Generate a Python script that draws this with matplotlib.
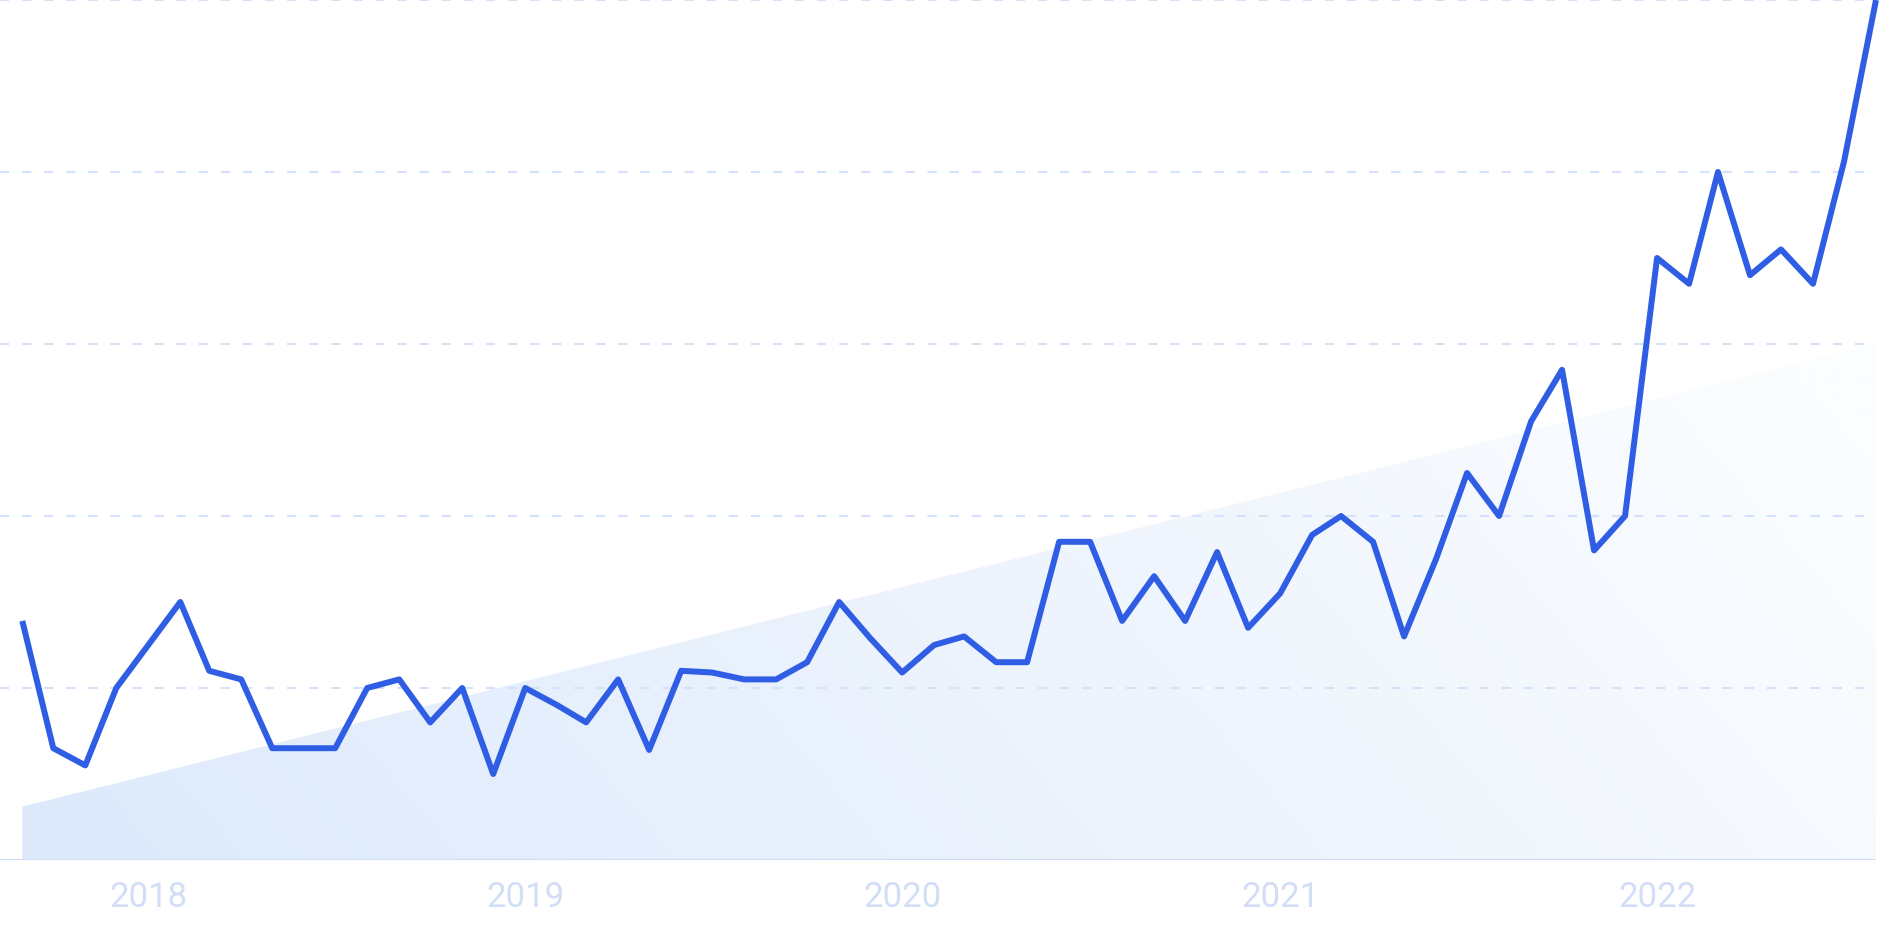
import numpy as np
import pandas as pd
import matplotlib
matplotlib.use('Agg')
import matplotlib.pyplot as plt
import matplotlib.dates as mdates
from matplotlib.colors import to_rgb

# monthly search interest (relative units, one grid step = 1)
months = pd.date_range('2017-09-01', periods=60, freq='MS')
interest = [1.39, 0.65, 0.55, 1.00, 1.25, 1.50, 1.10, 1.05, 0.65, 0.65,
            0.65, 1.00, 1.05, 0.80, 1.00, 0.50, 1.00, 0.90, 0.80, 1.05,
            0.64, 1.10, 1.09, 1.05, 1.05, 1.15, 1.50, 1.29, 1.09, 1.25,
            1.30, 1.15, 1.15, 1.85, 1.85, 1.39, 1.65, 1.39, 1.79, 1.35,
            1.55, 1.89, 2.00, 1.85, 1.30, 1.75, 2.25, 2.00, 2.55, 2.85,
            1.80, 2.00, 3.50, 3.35, 4.00, 3.40, 3.55, 3.35, 4.06, 5.00]
trend_ends = [0.31, 3.0]
year_ticks = ['2018', '2019', '2020', '2021', '2022']
grid_levels = [1, 2, 3, 4, 5]

line_color = '#2f5ee4'
grid_color = '#d3e1fb'
label_color = '#d2ddf6'

fig = plt.figure(figsize=(18.83, 9.41), dpi=100)
ax = fig.add_axes([0, 81 / 941, 1876 / 1883, 860 / 941])

xnum = mdates.date2num(months)

# trend area with a soft gradient
poly = ax.fill_between([xnum[0], xnum[-1]], trend_ends, 0,
                       facecolor='none', edgecolor='none')
h, w = 200, 400
xf = np.linspace(0, 1, w)[None, :]
yf = np.linspace(0, 1, h)[:, None]
t = np.clip(0.85 * xf + 0.2 * yf, 0, 1)
c0 = np.array(to_rgb('#dde9fb'))
c1 = np.array(to_rgb('#fbfdff'))
rgb = c0[None, None, :] * (1 - t[..., None]) + c1[None, None, :] * t[..., None]
img = ax.imshow(rgb, extent=[xnum[0], xnum[-1], 0, trend_ends[1]],
                origin='lower', aspect='auto', zorder=1, interpolation='bilinear')
img.set_clip_path(poly.get_paths()[0], transform=ax.transData)

# grid lines
for v in grid_levels:
    ax.axhline(v, color=grid_color, lw=1.5, linestyle=(0, (4.4, 6.2)), zorder=2)
ax.axhline(0, color='#cfdffa', lw=1.6, zorder=3)

ax.plot(xnum, interest, color=line_color, lw=4.3, solid_joinstyle='round',
        solid_capstyle='butt', clip_on=False, zorder=4)

ax.set_xlim(xnum[0] - 21.6, xnum[-1])
ax.set_ylim(0, 5)

tick_pos = mdates.date2num(pd.to_datetime([f'{y}-01-01' for y in year_ticks]))
ax.set_xticks(tick_pos)
ax.set_xticklabels(year_ticks, fontsize=25, color=label_color, family='Roboto')
ax.set_yticks([])
ax.tick_params(axis='x', length=0, pad=15)
for s in ax.spines.values():
    s.set_visible(False)

fig.savefig('out.png', dpi=100)
